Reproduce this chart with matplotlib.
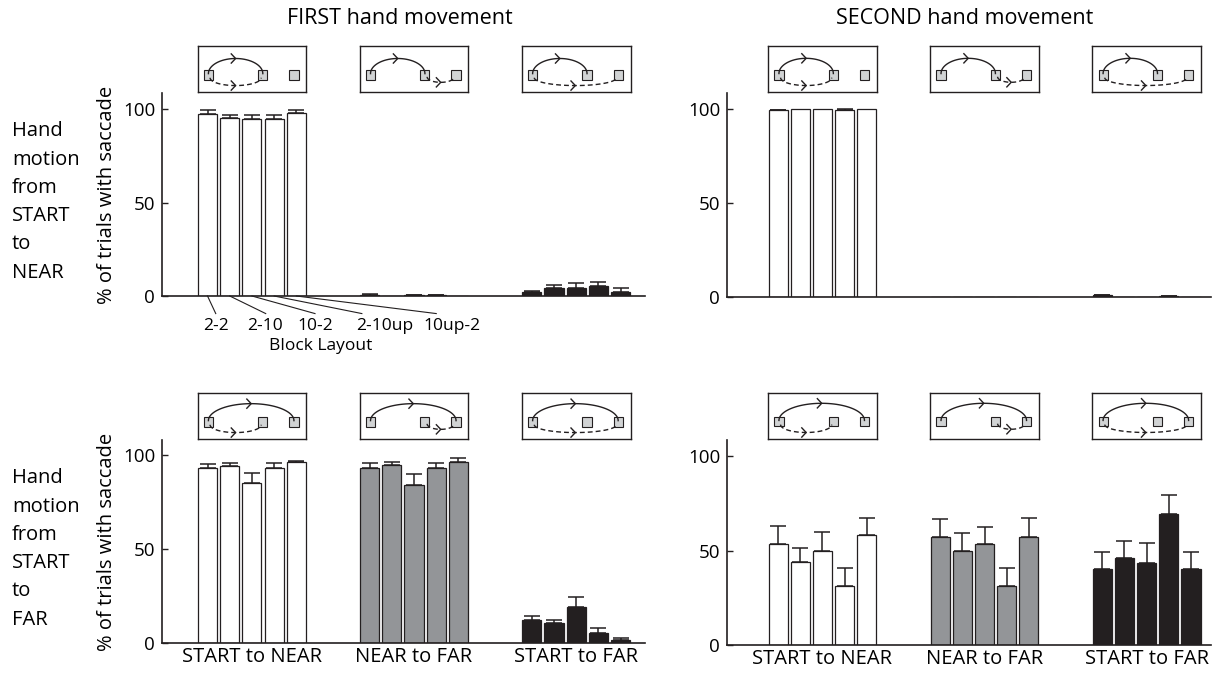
import numpy as np
import matplotlib.pyplot as plt
from matplotlib.patches import Rectangle
from matplotlib.transforms import blended_transform_factory

plt.rcParams['font.family'] = ['Open Sans', 'DejaVu Sans']

# categorias y datos
groups = ["START to NEAR", "NEAR to FAR", "START to FAR"]
layouts = ["2-2", "2-10", "10-2", "2-10up", "10up-2"]

first_near_vals = [[97.2, 95.0, 94.7, 94.8, 98.0], [0.8, 0.1, 0.4, 0.5, 0.0], [2.3, 4.4, 4.5, 5.5, 2.3]]
first_near_err = [[2.4, 1.8, 2.1, 2.0, 1.6], [0.5, 0.0, 0.2, 0.2, 0.0], [0.3, 1.6, 2.3, 2.0, 2.0]]
second_near_vals = [[99.3, 100, 100, 99.6, 100], [0, 0, 0, 0, 0], [0.8, 0, 0, 0.5, 0]]
second_near_err = [[0.5, 0, 0, 0.4, 0], [0, 0, 0, 0, 0], [0.3, 0, 0, 0.2, 0]]
first_far_vals = [[92.9, 94.1, 85.3, 92.9, 96.1], [93.3, 94.7, 84.0, 93.2, 96.1], [12.2, 10.5, 19.3, 5.5, 1.5]]
first_far_err = [[2.1, 1.8, 5.0, 2.7, 0.7], [2.3, 1.7, 5.7, 2.7, 2.1], [2.2, 1.7, 5.3, 2.3, 1.0]]
second_far_vals = [[53.4, 44.1, 49.9, 31.2, 58.2], [57.3, 49.9, 53.3, 31.2, 57.3], [40.0, 46.2, 43.5, 69.1, 40.0]]
second_far_err = [[9.6, 7.4, 9.7, 9.7, 9.2], [9.2, 9.2, 9.0, 9.7, 9.7], [9.4, 9.0, 10.3, 10.3, 9.4]]

INK = '#231f20'
bar_colors = ['#ffffff', '#939598', INK]
GAP = 7.3
W = 1213
H = 674

fig = plt.figure(figsize=(12.13, 6.74), dpi=100)


def px_axes(x0, y0, x1, y1):
    return fig.add_axes([x0 / W, 1 - y1 / H, (x1 - x0) / W, (y1 - y0) / H])


def arc(ax, x0, x1, ybase, h, upper, ls):
    t = np.linspace(np.pi, 0, 60)
    cx = (x0 + x1) / 2
    a = (x1 - x0) / 2
    s = 1 if upper else -1
    ax.plot(cx + a * np.cos(t), ybase + s * h * np.sin(t), color=INK, lw=1.0, ls=ls,
            dashes=(3.5, 2.2) if ls == '--' else (None, None), zorder=3)
    # punta de flecha en el punto medio
    ya = ybase + s * h
    ax.plot([cx - 0.04, cx, cx - 0.04], [ya + 0.1, ya, ya - 0.1], color=INK, lw=1.0, zorder=3)


def diagram(ax, g, solid_far, dash):
    tr = blended_transform_factory(ax.transData, ax.transAxes)
    ins = ax.inset_axes([g * GAP - 0.45, 1.005, 4.9, 0.226], transform=tr)
    ins.set_xlim(0, 1)
    ins.set_ylim(0, 1)
    ins.set_xticks([])
    ins.set_yticks([])
    for sp in ins.spines.values():
        sp.set_linewidth(1.0)
        sp.set_color(INK)
    for sx in [0.10, 0.60, 0.886]:
        ins.add_patch(Rectangle((sx - 0.042, 0.27), 0.084, 0.2, facecolor='#d1d3d4',
                                edgecolor=INK, lw=0.8, zorder=2))
    if solid_far:
        arc(ins, 0.10, 0.886, 0.40, 0.37, True, '-')
    else:
        arc(ins, 0.10, 0.60, 0.40, 0.33, True, '-')
    if dash == 0:
        arc(ins, 0.115, 0.585, 0.31, 0.17, False, '--')
    elif dash == 1:
        arc(ins, 0.62, 0.87, 0.33, 0.12, False, '--')
    else:
        arc(ins, 0.115, 0.87, 0.31, 0.17, False, '--')


def panel(box, vals, errs, xl, ytop, solid_far, bottom_row):
    ax = px_axes(*box)
    for g in range(3):
        x = g * GAP + np.arange(5)
        e = np.array(errs[g])
        ax.bar(x, vals[g], width=0.86, color=bar_colors[g], edgecolor=INK, lw=0.9, zorder=2)
        m = e > 0
        if m.any():
            ax.errorbar(x[m], np.array(vals[g])[m], yerr=[np.zeros(m.sum()), e[m]], fmt='none',
                        ecolor=INK, elinewidth=1.1, capsize=5.5, capthick=1.1, zorder=3)
        diagram(ax, g, solid_far, g)
    ax.set_xlim(*xl)
    ax.set_ylim(0, ytop)
    ax.set_yticks([0, 50, 100])
    ax.tick_params(axis='y', direction='in', length=4, width=1, labelsize=13.5, pad=5, color=INK)
    for s in ['top', 'right']:
        ax.spines[s].set_visible(False)
    for s in ['left', 'bottom']:
        ax.spines[s].set_linewidth(1.2)
        ax.spines[s].set_color(INK)
    if bottom_row:
        ax.set_xticks([g * GAP + 2 for g in range(3)])
        ax.set_xticklabels(groups, fontsize=14.5)
        ax.tick_params(axis='x', length=0, pad=3)
    else:
        ax.set_xticks([])
    return ax


ax1 = panel((162, 93, 645, 296), first_near_vals, first_near_err, (-2.05, 19.7), 108.6, False, False)
ax2 = panel((727, 93, 1211, 297), second_near_vals, second_near_err, (-2.3, 19.5), 108.6, False, False)
ax3 = panel((162, 440, 645, 643), first_far_vals, first_far_err, (-2.05, 19.7), 108.0, True, True)
ax4 = panel((727, 440, 1211, 645), second_far_vals, second_far_err, (-2.3, 19.5), 108.5, True, True)

for ax in [ax1, ax3]:
    ax.set_ylabel("% of trials with saccade", fontsize=14.5, labelpad=4)

# etiquetas de "Block Layout"
label_x = [0.38, 2.59, 4.84, 8.0, 11.0]
line_end = [0.37, 2.62, 4.84, 6.95, 10.3]
for j in range(5):
    ax1.plot([j, line_end[j]], [0, -9.4], color=INK, lw=0.8, clip_on=False)
    ax1.text(label_x[j], -15.8, layouts[j], ha='center', va='center', fontsize=12.5)
ax1.text(5.11, -26.5, "Block Layout", ha='center', va='center', fontsize=12.5)

fig.text(400 / W, 1 - 18 / H, "FIRST hand movement", ha='center', va='center', fontsize=15.5)
fig.text(965 / W, 1 - 18 / H, "SECOND hand movement", ha='center', va='center', fontsize=15.5)

fig.text(12 / W, 1 - 202 / H, "Hand\nmotion\nfrom\nSTART\nto\nNEAR", ha='left', va='center',
         fontsize=14.5, linespacing=1.55)
fig.text(12 / W, 1 - 549 / H, "Hand\nmotion\nfrom\nSTART\nto\nFAR", ha='left', va='center',
         fontsize=14.5, linespacing=1.55)

fig.savefig("out.png", dpi=100, facecolor='white')
